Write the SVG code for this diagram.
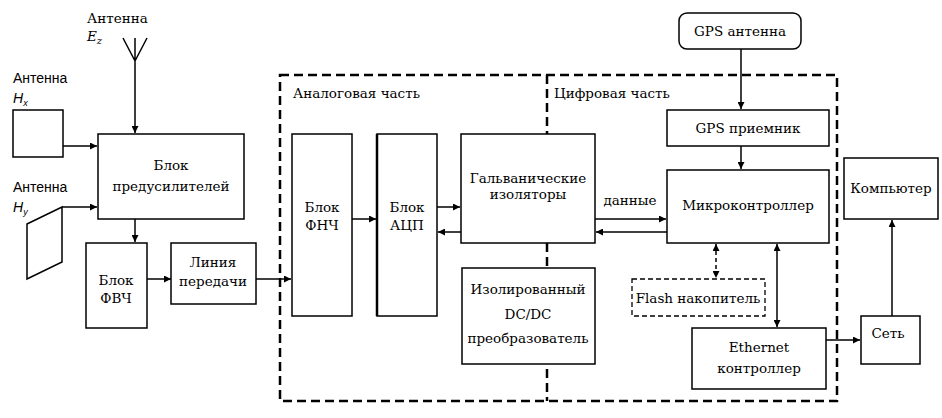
<svg xmlns="http://www.w3.org/2000/svg" width="942" height="418" viewBox="0 0 942 418">
<style>
.b{fill:#fff;stroke:#000;stroke-width:1.5}
.t{font-family:"DejaVu Serif","Liberation Serif",serif;font-size:13.5px;fill:#000;text-anchor:middle}
.tl{font-family:"DejaVu Serif","Liberation Serif",serif;font-size:13.5px;fill:#000}
.s{font-family:"Liberation Sans",Arial,sans-serif;font-size:14px;fill:#000}
.c{fill:none;stroke:#000;stroke-width:1.5}
.dash{fill:none;stroke:#000;stroke-width:2.5;stroke-dasharray:9 5}
</style>
<defs>
<marker id="a" viewBox="0 0 10 10" refX="10" refY="5" markerWidth="9" markerHeight="7" markerUnits="userSpaceOnUse" orient="auto-start-reverse"><path d="M0,0L10,5L0,10z" fill="#000"/></marker>
</defs>
<rect width="942" height="418" fill="#fff"/>
<g id="frame">
<rect x="280" y="75" width="557" height="326" class="dash"/>
<line x1="547" y1="75" x2="547" y2="401" class="dash" stroke-width="2"/>
<text class="tl" x="293" y="98">Аналоговая часть</text>
<text class="tl" x="554" y="98">Цифровая часть</text>
</g>
<g id="connectors">
<path class="c" d="M123,38L135,61L147,38M135,38V133" marker-end="url(#a)"/>
<line class="c" x1="63" y1="146" x2="97" y2="146" marker-end="url(#a)"/>
<line class="c" x1="62" y1="207" x2="97" y2="207" marker-end="url(#a)"/>
<line class="c" x1="135" y1="219" x2="135" y2="242" marker-end="url(#a)"/>
<line class="c" x1="147" y1="279" x2="171" y2="279" marker-end="url(#a)"/>
<line class="c" x1="256" y1="279" x2="291" y2="279" marker-end="url(#a)"/>
<line class="c" x1="352" y1="219" x2="376" y2="219" marker-end="url(#a)"/>
<line class="c" x1="437" y1="207" x2="460" y2="207" marker-end="url(#a)"/>
<line class="c" x1="461" y1="232" x2="438" y2="232" marker-end="url(#a)"/>
<line class="c" x1="595" y1="219" x2="666" y2="219" marker-end="url(#a)"/>
<line class="c" x1="667" y1="232" x2="596" y2="232" marker-end="url(#a)"/>
<line class="c" x1="741" y1="49" x2="741" y2="109" marker-end="url(#a)"/>
<line class="c" x1="741" y1="146" x2="741" y2="169" marker-end="url(#a)"/>
<line class="c" x1="716" y1="244" x2="716" y2="278" stroke-dasharray="4 3" marker-start="url(#a)" marker-end="url(#a)"/>
<line class="c" x1="777" y1="244" x2="777" y2="327" stroke-width="2" marker-start="url(#a)" marker-end="url(#a)"/>
<line class="c" x1="826" y1="340" x2="860" y2="340" marker-end="url(#a)"/>
<line class="c" x1="892" y1="316" x2="892" y2="220" stroke-width="2.5" marker-end="url(#a)"/>
<text class="t" x="630" y="205">данные</text>
</g>
<g id="ant-ez">
<text class="tl" x="87" y="23">Антенна</text>
<text class="tl" x="87" y="41" font-style="italic">E<tspan font-size="10" dy="3">z</tspan></text>
</g>
<g id="ant-hx">
<text class="s" x="13" y="83">Антенна</text>
<text class="s" x="13" y="103" font-style="italic">H<tspan font-size="9" dy="3">x</tspan></text>
<rect class="b" x="13" y="110" width="50" height="47"/>
</g>
<g id="ant-hy">
<text class="s" x="13" y="192">Антенна</text>
<text class="s" x="13" y="212" font-style="italic">H<tspan font-size="9" dy="3">y</tspan></text>
<path class="b" d="M27,224L62,207V262L27,279Z"/>
</g>
<g id="preamp">
<rect class="b" x="98" y="134" width="146" height="85"/>
<text class="t" x="171" y="170">Блок</text>
<text class="t" x="171" y="191">предусилителей</text>
</g>
<g id="hpf">
<rect class="b" x="86" y="243" width="61" height="85"/>
<text class="t" x="116" y="285">Блок</text>
<text class="t" x="116" y="303">ФВЧ</text>
</g>
<g id="line">
<rect class="b" x="171" y="243" width="85" height="61"/>
<text class="t" x="213" y="267">Линия</text>
<text class="t" x="213" y="286">передачи</text>
</g>
<g id="lpf">
<rect class="b" x="292" y="134" width="60" height="182"/>
<text class="t" x="322" y="212">Блок</text>
<text class="t" x="322" y="230">ФНЧ</text>
</g>
<g id="adc">
<rect class="b" x="377" y="134" width="60" height="182"/>
<line x1="377" y1="134" x2="377" y2="316" stroke="#000" stroke-width="2.5"/>
<text class="t" x="407" y="212">Блок</text>
<text class="t" x="407" y="230">АЦП</text>
</g>
<g id="iso">
<rect class="b" x="461" y="134" width="134" height="109"/>
<text class="t" x="528" y="183">Гальванические</text>
<text class="t" x="528" y="199">изоляторы</text>
</g>
<g id="dcdc">
<rect class="b" x="462" y="268" width="133" height="96"/>
<text class="t" x="528" y="294">Изолированный</text>
<text class="t" x="528" y="319">DC/DC</text>
<text class="t" x="528" y="343">преобразователь</text>
</g>
<g id="gps-ant">
<rect class="b" x="679" y="13" width="122" height="36" rx="8"/>
<text class="t" x="740" y="36">GPS антенна</text>
</g>
<g id="gps-rx">
<rect class="b" x="667" y="110" width="162" height="36"/>
<text class="t" x="748" y="133">GPS приемник</text>
</g>
<g id="mcu">
<rect class="b" x="667" y="170" width="162" height="73"/>
<text class="t" x="748" y="210">Микроконтроллер</text>
</g>
<g id="flash">
<rect x="632" y="279" width="133" height="37" fill="#fff" stroke="#000" stroke-width="1.3" stroke-dasharray="5 3"/>
<text class="t" x="698" y="303">Flash накопитель</text>
</g>
<g id="eth">
<rect class="b" x="692" y="328" width="134" height="61"/>
<text class="t" x="759" y="352">Ethernet</text>
<text class="t" x="759" y="373">контроллер</text>
</g>
<g id="net">
<rect class="b" x="861" y="316" width="59" height="48"/>
<text class="t" x="888" y="338">Сеть</text>
</g>
<g id="pc">
<rect class="b" x="844" y="158" width="94" height="61"/>
<text class="t" x="891" y="193">Компьютер</text>
</g>
</svg>
